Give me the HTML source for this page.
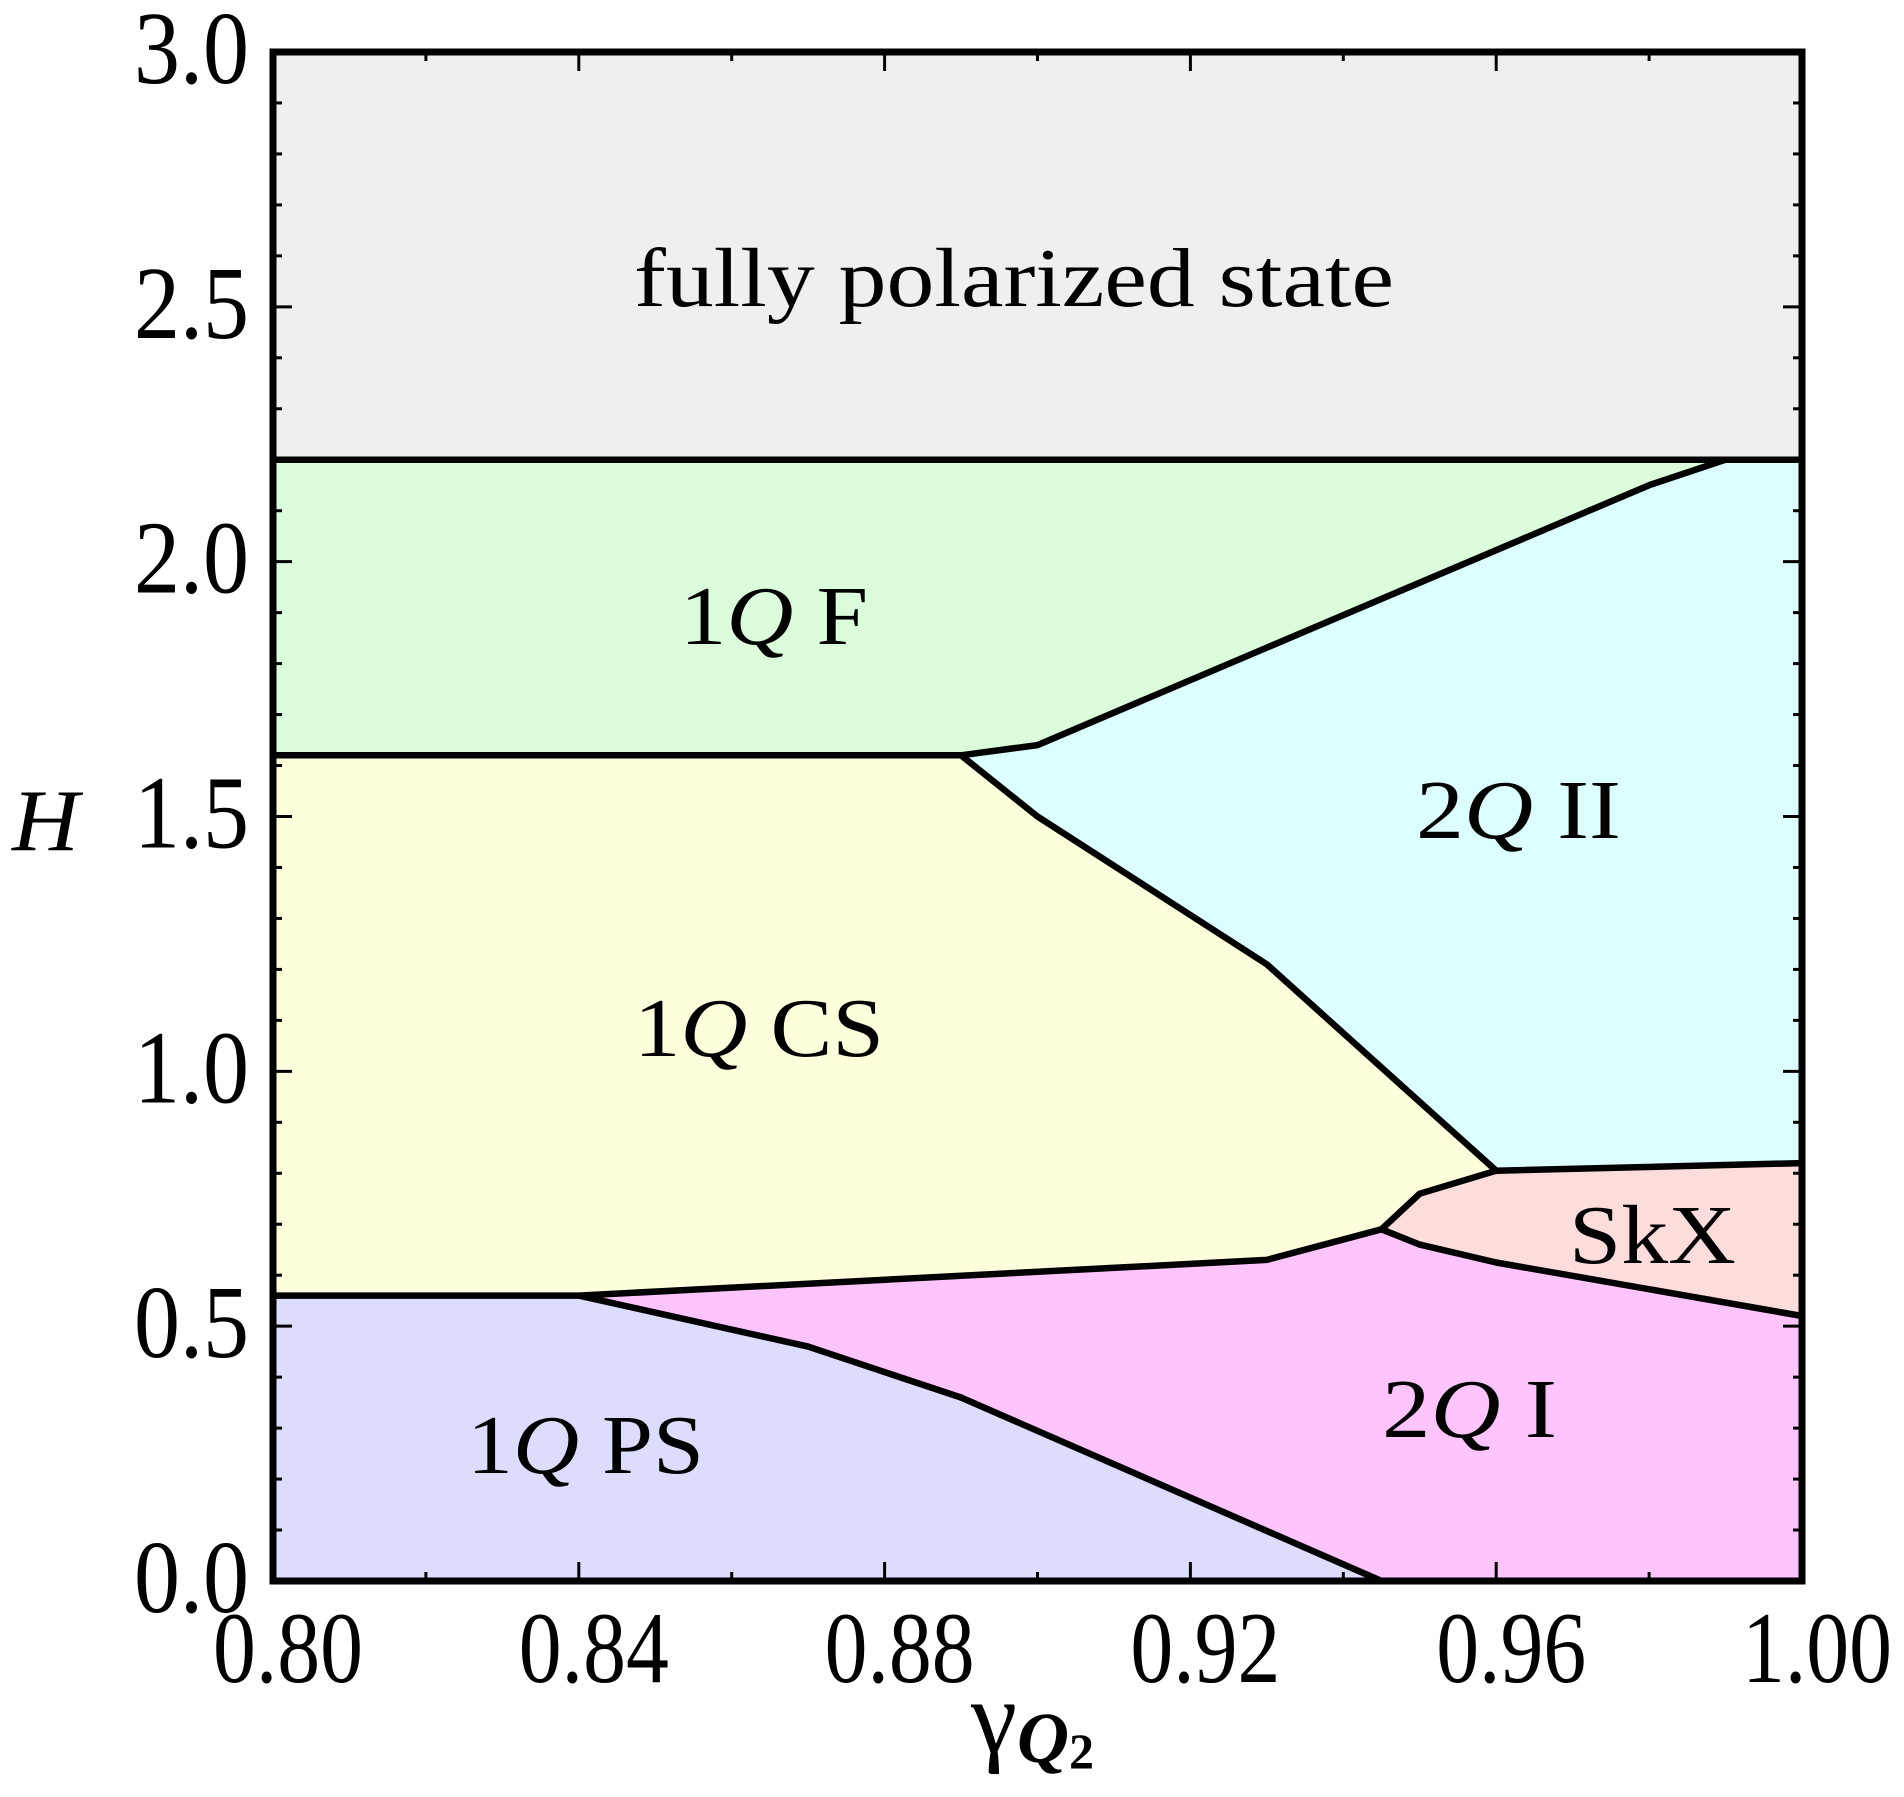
<!DOCTYPE html>
<html><head><meta charset="utf-8"><style>
html,body{margin:0;padding:0;background:#fff;}
svg{display:block;}
text{font-family:"Liberation Serif","Times New Roman",serif;fill:#000;}
</style></head><body>
<svg id="chart" width="1904" height="1797" viewBox="0 0 1904 1797" xmlns="http://www.w3.org/2000/svg">
<g id="regions"></g>
<g id="bounds"></g>
<g id="ticks"></g>
<rect x="273" y="52" width="1529" height="1529" fill="none" stroke="#000" stroke-width="7"/>
<g id="labels" font-size="84">
<text x="634" y="306" textLength="760" lengthAdjust="spacingAndGlyphs">fully polarized state</text>
<text x="680" y="644" textLength="188" lengthAdjust="spacingAndGlyphs">1<tspan font-style="italic">Q</tspan> F</text>
<text x="634" y="1056" textLength="250" lengthAdjust="spacingAndGlyphs">1<tspan font-style="italic">Q</tspan> CS</text>
<text x="1416" y="838" textLength="205" lengthAdjust="spacingAndGlyphs">2<tspan font-style="italic">Q</tspan> II</text>
<text x="1569" y="1263" textLength="167" lengthAdjust="spacingAndGlyphs">SkX</text>
<text x="1382" y="1437" textLength="175" lengthAdjust="spacingAndGlyphs">2<tspan font-style="italic">Q</tspan> I</text>
<text x="467" y="1473" textLength="237" lengthAdjust="spacingAndGlyphs">1<tspan font-style="italic">Q</tspan> PS</text>
</g>
<text x="12" y="850" font-size="88" font-style="italic" textLength="67" lengthAdjust="spacingAndGlyphs">H</text>
<text x="971" y="1752" font-size="104">γ<tspan font-size="72" dy="10" font-style="italic" font-weight="bold">Q</tspan><tspan font-size="50" dy="6" font-weight="bold">2</tspan></text>
</svg>
<script>
const xTickValues=[0.80,0.84,0.88,0.92,0.96,1.00];
const xTickLabels=["0.80","0.84","0.88","0.92","0.96","1.00"];
const yTickValues=[0,0.5,1.0,1.5,2.0,2.5,3.0];
const yTickLabels=["0.0","0.5","1.0","1.5","2.0","2.5","3.0"];
const regionNames=["fully-polarized","1q-f","2q-ii","1q-cs","skx","2q-i","1q-ps"];
const regionColors=["#efefef","#dcfddc","#dcfefe","#fefedc","#fddcdc","#fec4fe","#dcdcfc"];
const fpRegion=[[0.8,3.0],[1.0,3.0],[1.0,2.2],[0.8,2.2]];
const fRegion=[[0.8,2.2],[0.99,2.2],[0.98,2.15],[0.9,1.64],[0.89,1.62],[0.8,1.62]];
const q2iiRegion=[[0.99,2.2],[1,2.2],[1,0.82],[0.96,0.805],[0.93,1.21],[0.9,1.5],[0.89,1.62],[0.9,1.64],[0.98,2.15]];
const csRegion=[[0.8,1.62],[0.89,1.62],[0.9,1.5],[0.93,1.21],[0.96,0.805],[0.95,0.76],[0.945,0.69],[0.93,0.63],[0.84,0.56],[0.8,0.56]];
const skxRegion=[[0.96,0.805],[1,0.82],[1,0.52],[0.96,0.625],[0.95,0.66],[0.945,0.69],[0.95,0.76]];
const q2iRegion=[[0.84,0.56],[0.93,0.63],[0.945,0.69],[0.95,0.66],[0.96,0.625],[1,0.52],[1,0],[0.945,0],[0.89,0.36],[0.87,0.46]];
const psRegion=[[0.8,0.56],[0.84,0.56],[0.87,0.46],[0.89,0.36],[0.945,0],[0.8,0]];
const boundaryFP=[[0.8,2.2],[1.0,2.2]];
const boundaryF_CS=[[0.8,1.62],[0.89,1.62]];
const boundaryF_2QII=[[0.89,1.62],[0.9,1.64],[0.98,2.15],[0.99,2.2]];
const boundaryCS_2QII=[[0.89,1.62],[0.9,1.5],[0.93,1.21],[0.96,0.805],[1.0,0.82]];
const boundaryCS_SkX=[[0.96,0.805],[0.95,0.76],[0.945,0.69]];
const boundaryCS_2QI=[[0.8,0.56],[0.84,0.56],[0.93,0.63],[0.945,0.69]];
const boundarySkX_2QI=[[0.945,0.69],[0.95,0.66],[0.96,0.625],[1.0,0.52]];
const boundaryPS_2QI=[[0.84,0.56],[0.87,0.46],[0.89,0.36],[0.945,0]];

const X0=273,X1=1802,Y0=1581,Y1=52;
function sx(v){return X0+(v-0.8)/0.2*(X1-X0);}
function sy(v){return Y0-v/3*(Y0-Y1);}
const NS="http://www.w3.org/2000/svg";
function pts(a){return a.map(p=>sx(p[0]).toFixed(1)+","+sy(p[1]).toFixed(1)).join(" ");}
const regions=[fpRegion,fRegion,q2iiRegion,csRegion,skxRegion,q2iRegion,psRegion];
const rg=document.getElementById("regions");
regions.forEach((r,i)=>{
  const p=document.createElementNS(NS,"polygon");
  p.setAttribute("points",pts(r));
  p.setAttribute("fill",regionColors[i]);
  p.setAttribute("stroke",regionColors[i]);
  p.setAttribute("stroke-width","1");
  
  
  rg.appendChild(p);
});
const bg=document.getElementById("bounds");
const bounds=[boundaryFP,boundaryF_CS,boundaryF_2QII,boundaryCS_2QII,boundaryCS_SkX,boundaryCS_2QI,boundarySkX_2QI,boundaryPS_2QI];
bounds.forEach((b,i)=>{
  const p=document.createElementNS(NS,"polyline");
  p.setAttribute("points",pts(b));
  p.setAttribute("fill","none");
  p.setAttribute("stroke","#000");
  p.setAttribute("stroke-width","6.5");
  p.setAttribute("stroke-linejoin","round");
  
  
  bg.appendChild(p);
});
const tg=document.getElementById("ticks");
function line(x1,y1,x2,y2){
  const l=document.createElementNS(NS,"line");
  l.setAttribute("x1",x1);l.setAttribute("y1",y1);l.setAttribute("x2",x2);l.setAttribute("y2",y2);
  l.setAttribute("stroke","#000");l.setAttribute("stroke-width","3");
  
  
  tg.appendChild(l);
}
for(let i=0;i<=10;i++){
  const v=0.8+i*0.02, x=sx(v), L=(i%2===0)?19:9;
  line(x,Y0,x,Y0-L); line(x,Y1,x,Y1+L);
}
for(let i=0;i<=30;i++){
  const v=i*0.1, y=sy(v), L=(i%5===0)?19:9;
  line(X0,y,X0+L,y); line(X1,y,X1-L,y);
}
xTickValues.forEach((v,i)=>{
  const t=document.createElementNS(NS,"text");
  t.setAttribute("x",sx(v)-60);t.setAttribute("y",1682);
  t.setAttribute("font-size","102");
  t.setAttribute("textLength","150");t.setAttribute("lengthAdjust","spacingAndGlyphs");
  t.textContent=xTickLabels[i];
  
  
  tg.appendChild(t);
});
yTickValues.forEach((v,i)=>{
  const t=document.createElementNS(NS,"text");
  t.setAttribute("x",134);t.setAttribute("y",sy(v)+31);
  t.setAttribute("font-size","104");
  t.setAttribute("textLength","115");t.setAttribute("lengthAdjust","spacingAndGlyphs");
  t.textContent=yTickLabels[i];
  
  
  tg.appendChild(t);
});
</script>
</body></html>
